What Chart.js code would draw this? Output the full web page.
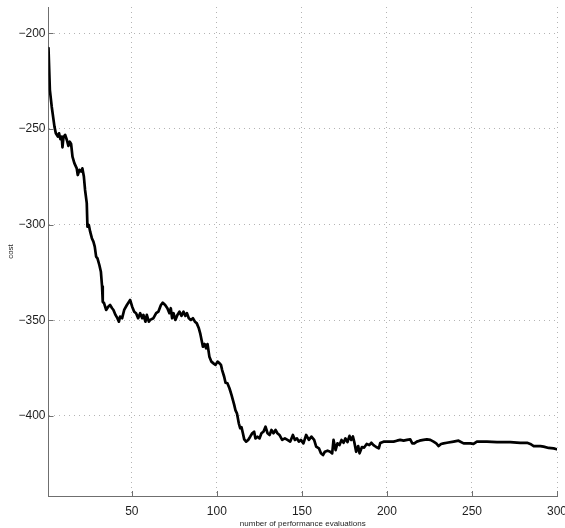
<!DOCTYPE html>
<html>
<head>
<meta charset="utf-8">
<script src="https://cdn.jsdelivr.net/npm/chart.js@4/dist/chart.umd.min.js"></script>
<style>
  html, body { margin: 0; padding: 0; background: #ffffff; }
  #wrap { width: 565px; height: 528px; }
</style>
</head>
<body>
<div id="wrap"><canvas id="c" width="565" height="528"></canvas></div>
<script>
// Optimisation trace: cost after each performance evaluation
const evals = [
  1, 1.8, 2.9, 4.5, 5.3, 6.5, 7.2, 8.0, 8.8, 9.2, 9.8, 10.8, 11.8, 12.7, 13.5, 14.3, 15.1, 16.2, 17.6, 18.2,
  19.2, 20.2, 20.9, 21.8, 22.5, 23.5,
  23.9, 24.7, 25.5, 26.5, 27.4, 28.2, 29.0, 29.8, 30.9, 31.8, 32.5, 32.9, 33.7, 34.9, 36.1, 37.2, 38.4, 39.2,
  40.4, 41.5, 42.4, 43.1, 44.3, 45.5, 47.1, 49.0, 50.2, 51.4, 52.5, 53.7, 54.9, 56.1, 56.8, 58.0, 58.8, 60.0,
  60.8, 62.7, 64.3, 65.6, 67.1, 68.2, 69.6, 70.9, 72.1, 72.9, 73.7, 74.5, 75.6, 76.8, 78.0, 79.2, 80.4, 81.5,
  82.4, 83.5, 84.7, 85.9, 87.1, 88.2, 89.4, 90.2,
  91.8, 92.8, 93.7, 94.5, 95.6, 96.8, 98.0, 99.2, 100.4, 101.6, 102.4, 103.1, 104.3, 105.1, 106.2, 107.4,
  108.6, 109.4, 110.2, 110.9, 111.8, 112.9, 113.7, 114.5, 115.3, 116.1, 117.2, 118.4, 119.6, 120.8, 121.9,
  122.7, 123.9, 125.1, 126.2, 127.4, 128.6, 129.8, 131.0, 132.1, 133.3, 134.5, 135.6, 136.8,
  138.4, 140.0, 141.5, 143.1, 144.7, 145.9, 147.1, 148.2, 149.4, 150.9, 152.5, 154.1, 155.6, 157.2, 158.4,
  160.0, 161.2, 162.4, 163.5, 165.1, 166.6, 167.8, 168.6, 169.8, 170.9, 172.1, 173.3, 174.5, 175.6, 176.8,
  178.0, 179.0, 180.0, 180.8, 181.9, 183.1, 183.9, 185.3, 186.6, 188.1, 189.6, 190.8, 192.1, 193.7, 195.2, 196.1,
  198.0, 200.0, 201.9, 203.9, 205.9, 207.8, 209.8, 211.8, 213.7, 214.9, 216.1, 217.6, 219.2, 221.5, 223.5,
  225.5, 227.4, 229.0, 230.4, 231.8, 233.3, 235.3, 239.2, 242.1, 245.1, 249.0, 250.9, 252.9, 258.8, 264.7,
  272.5, 278.4, 282.4, 284.3, 286.3, 290.2, 292.1, 295.1, 298.0, 300
];

const cost = [
  -207.8, -229.6, -238.4, -248.8, -252.3, -254.0, -252.3, -255.4, -254.0, -259.6, -254.4, -253.1, -255.8,
  -258.9, -256.7, -257.9, -264.5, -267.9, -270.6, -274.1, -271.4, -272.3, -270.6, -274.9, -281.9, -288.8,
  -301.1, -300.2, -303.7, -307.1, -308.9, -311.5, -316.7, -317.6, -321.1, -324.6, -332.4, -340.3, -341.1,
  -344.6, -342.9, -342.0, -343.7, -344.6, -347.2, -348.9, -350.7, -348.1, -348.9, -344.6, -342.0, -339.4,
  -342.9, -345.5, -346.3, -348.9, -346.3, -348.9, -347.2, -350.7, -347.2, -350.7,
  -349.8, -348.9, -346.3, -345.5, -342.0, -340.8, -342.0, -343.7, -346.3, -343.7, -348.9, -346.3, -349.8,
  -347.2, -345.5, -347.7, -345.5, -347.7, -346.3, -348.9, -349.8, -348.9, -350.7, -351.6, -354.2, -356.8,
  -363.8, -362.4, -364.6, -362.4, -369.0, -371.6, -372.5, -373.3, -371.6, -372.5, -373.3, -376.0, -379.5,
  -382.6, -382.9, -385.5, -389.0, -391.6, -394.2, -396.9, -398.6, -403.8, -406.4, -405.9, -409.0, -412.2,
  -413.4, -412.5, -410.8, -409.0, -408.2, -411.7, -410.8, -411.7, -409.0, -408.2, -405.6, -409.0, -409.9,
  -407.3, -409.0, -407.3, -409.0, -409.9,
  -412.5, -411.7, -412.5, -413.4, -409.9, -412.5, -411.7, -413.4, -412.5, -414.3, -409.9, -412.5, -410.8,
  -412.5, -416.0, -416.9, -419.5, -420.4, -418.7, -418.1, -418.7, -419.5, -412.5, -417.8, -414.3, -415.2,
  -412.5, -414.0, -411.7, -413.6, -410.4, -412.5, -410.7, -413.6, -418.7, -415.7, -419.5, -416.2, -416.5,
  -414.6, -415.2, -414.0, -415.2, -416.2, -416.9, -414.1,
  -413.4, -413.4, -413.4, -413.4, -412.9, -412.5, -412.9, -412.5, -412.2, -414.3, -414.3, -413.4, -412.9,
  -412.5, -412.2, -412.5, -413.4, -414.3, -415.7, -414.6, -414.3, -414.0, -413.4, -412.9, -414.3, -414.3,
  -414.6, -413.4, -413.4, -413.6, -413.7, -414.0, -414.0, -414.6, -415.7, -415.7, -416.0, -416.7, -416.9, -417.4
];

const xTicks = [50, 100, 150, 200, 250, 300];
const yTicks = [-400, -350, -300, -250, -200];

const xLabel = 'number of performance evaluations';
const yLabel = 'cost';

const tickFont = { family: "'Liberation Sans Narrow', 'Liberation Sans', Arial, sans-serif", size: 12 };
const titleFont = { family: "'Liberation Sans', Arial, sans-serif", size: 8 };
const axisColor = '#6f6f6f';
const gridColor = '#b4b4b4';
const textColor = '#1e1e1e';

const points = evals.map((e, i) => ({ x: e, y: cost[i] }));

// Short tick marks pointing into the plot area, drawn at each axis tick
const inwardTicks = {
  id: 'inwardTicks',
  afterDatasetsDraw(chart) {
    const { ctx, chartArea, scales } = chart;
    const len = 5;
    ctx.save();
    ctx.strokeStyle = axisColor;
    ctx.lineWidth = 1;
    ctx.beginPath();
    xTicks.forEach(v => {
      const px = Math.round(scales.x.getPixelForValue(v)) + 0.5;
      ctx.moveTo(px, chartArea.bottom);
      ctx.lineTo(px, chartArea.bottom - len);
    });
    yTicks.forEach(v => {
      const py = Math.round(scales.y.getPixelForValue(v)) + 0.5;
      ctx.moveTo(chartArea.left, py);
      ctx.lineTo(chartArea.left + len, py);
    });
    ctx.stroke();
    ctx.restore();
  }
};

new Chart(document.getElementById('c'), {
  type: 'line',
  data: {
    datasets: [{
      data: points,
      borderColor: '#000000',
      borderWidth: 2.7,
      borderJoinStyle: 'round',
      borderCapStyle: 'round',
      pointRadius: 0,
      tension: 0,
      fill: false
    }]
  },
  options: {
    responsive: false,
    devicePixelRatio: 1,
    animation: false,
    layout: { padding: { top: 7, right: 8, left: 0, bottom: 0 } },
    plugins: { legend: { display: false }, tooltip: { enabled: false } },
    scales: {
      x: {
        type: 'linear',
        min: 1,
        max: 300,
        afterFit(s) { s.height = 32; s.paddingLeft = 0; s.paddingRight = 0; },
        afterBuildTicks(s) { s.ticks = xTicks.map(v => ({ value: v })); },
        ticks: { font: tickFont, color: textColor, padding: 8, maxRotation: 0 },
        grid: { color: gridColor, drawTicks: false, lineWidth: 1 },
        border: { display: true, color: axisColor, width: 1, dash: [1, 4] },
        title: { display: true, text: xLabel, font: titleFont, color: textColor, padding: { top: 0, bottom: -1 } }
      },
      y: {
        type: 'linear',
        min: -441.8,
        max: -186.3,
        afterFit(s) { s.width = 48.5; s.paddingTop = 0; s.paddingBottom = 0; },
        afterBuildTicks(s) { s.ticks = yTicks.map(v => ({ value: v })); },
        ticks: {
          font: tickFont, color: textColor, padding: 3,
          callback: v => String(v).replace('-', '\u2212')
        },
        grid: { color: gridColor, drawTicks: false, lineWidth: 1 },
        border: { display: true, color: axisColor, width: 1, dash: [1, 4] },
        title: { display: true, text: yLabel, font: titleFont, color: textColor, padding: { top: 6, bottom: 0 } }
      }
    }
  },
  plugins: [inwardTicks]
});
</script>
</body>
</html>
